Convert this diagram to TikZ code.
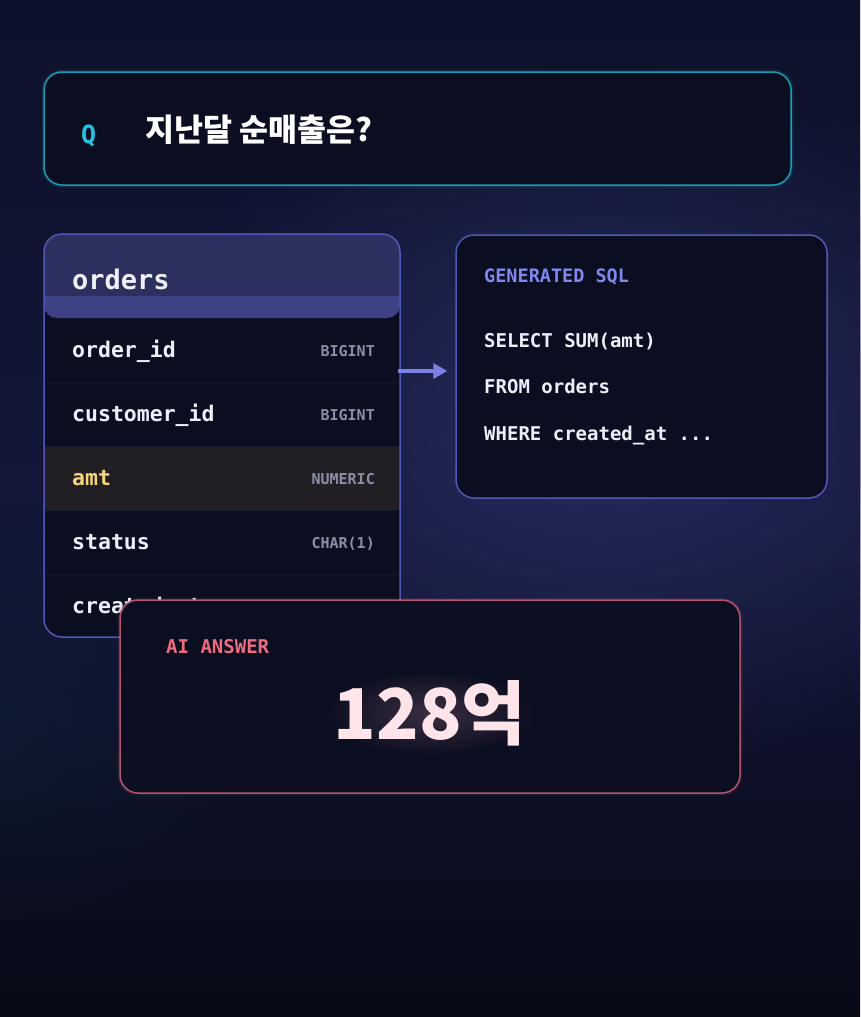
\documentclass[tikz,border=0pt]{standalone}
\usepackage{fontspec}
\setmonofont{DejaVu Sans Mono}
\newfontfamily\kr{Noto Sans CJK KR}
\usetikzlibrary{arrows.meta,fadings,calc}
\tikzfading[name=softglow, inner color=transparent!0, outer color=transparent!100]
\definecolor{bgtop}{HTML}{0D1129}
\definecolor{bgmid}{HTML}{13173A}
\definecolor{bgbot}{HTML}{080A16}
\definecolor{glowc}{HTML}{262B5C}
\definecolor{tealglow}{HTML}{0E2A3A}
\definecolor{cardfill}{HTML}{0A0E20}
\definecolor{qborder}{HTML}{1C9CB4}
\definecolor{qcyan}{HTML}{22C4E2}
\definecolor{tborder}{HTML}{5258B8}
\definecolor{thead}{HTML}{2C305E}
\definecolor{tband}{HTML}{3C4283}
\definecolor{tsep}{HTML}{151A31}
\definecolor{amtrow}{HTML}{211F24}
\definecolor{fieldc}{HTML}{EEF0F8}
\definecolor{amtc}{HTML}{F5D67A}
\definecolor{typec}{HTML}{8A8FA8}
\definecolor{sqlhead}{HTML}{8088EE}
\definecolor{arrowc}{HTML}{7A80E6}
\definecolor{ansborder}{HTML}{B5546E}
\definecolor{ansred}{HTML}{F06A80}
\definecolor{anstext}{HTML}{FFE4EA}
\definecolor{ansglow}{HTML}{FFB0C4}
\begin{document}
\begin{tikzpicture}[x=1pt,y=-1pt,
  card/.style={rounded corners=18pt, line width=1.5pt, inner sep=0pt, fill=cardfill},
  fieldtxt/.style={anchor=base west, inner sep=0pt, text=fieldc, font=\ttfamily\bfseries\fontsize{21.5}{22}\selectfont},
  typetxt/.style={anchor=base east, inner sep=0pt, text=typec, font=\ttfamily\bfseries\fontsize{15}{15}\selectfont},
  sqltxt/.style={anchor=base west, inner sep=0pt, text=fieldc, font=\ttfamily\bfseries\fontsize{19}{19}\selectfont},
  bignum/.style={inner sep=0pt, font=\kr\bfseries\fontsize{70}{70}\selectfont}
]
\useasboundingbox (0,0) rectangle (860,1017);
% background
\shade[top color=bgtop, bottom color=bgbot, middle color=bgmid] (0,0) rectangle (860,1017);
\fill[glowc, path fading=softglow] (600,420) ellipse (480 and 360);
\fill[tealglow, path fading=softglow, opacity=0.35] (0,720) ellipse (260 and 220);

% question card
\draw[qborder, line width=5pt, opacity=0.15, rounded corners=18pt] (44,72) rectangle (791,185);
\node[card, draw=qborder, minimum width=747pt, minimum height=113pt] (q) at (417.5,128.5) {};
\node[anchor=base west, inner sep=0pt, text=qcyan, font=\ttfamily\bfseries\fontsize{25}{25}\selectfont] (qlab) at (81,143) {Q};
\node[anchor=west, inner sep=0pt, text=white, font=\kr\bfseries\fontsize{31.5}{32}\selectfont] (qtext) at (145,130) {지난달 순매출은?};

% table
\begin{scope}
  \clip[rounded corners=18pt] (44,234) rectangle (400,637);
  \fill[cardfill] (44,234) rectangle (400,637);
  \fill[thead] (44,234) rectangle (400,300);
  \fill[tband, rounded corners=13pt] (44,280) rectangle (400,318);
  \fill[tband] (44,296) rectangle (400,305);
  \fill[thead] (44,280) rectangle (400,296);
  \fill[amtrow] (44,446) rectangle (400,510);
  \foreach \yy in {382,446,510,574} \draw[tsep, line width=1pt] (44,\yy) -- (400,\yy);
  \node[anchor=base west, inner sep=0pt, text=fieldc, font=\ttfamily\bfseries\fontsize{27}{27}\selectfont] (tname) at (72,289) {orders};
  \node[fieldtxt] (f1) at (72,357) {order\_id};
  \node[typetxt] (t1) at (375,356) {BIGINT};
  \node[fieldtxt] (f2) at (72,421) {customer\_id};
  \node[typetxt] (t2) at (375,420) {BIGINT};
  \node[fieldtxt, text=amtc] (f3) at (72,485) {amt};
  \node[typetxt] (t3) at (375,484) {NUMERIC};
  \node[fieldtxt] (f4) at (72,549) {status};
  \node[typetxt] (t4) at (375,548) {CHAR(1)};
  \node[fieldtxt] (f5) at (72,613) {created\_at};
\end{scope}
\node[rounded corners=18pt, line width=1.5pt, inner sep=0pt, draw=tborder, minimum width=356pt, minimum height=403pt] (tbl) at (222,435.5) {};

% SQL card
\node[card, draw=tborder, minimum width=371pt, minimum height=263pt] (sql) at (641.5,366.5) {};
\node[anchor=base west, inner sep=0pt, text=sqlhead, font=\ttfamily\bfseries\fontsize{18.5}{19}\selectfont] (sqlh) at (484,282.5) {GENERATED SQL};
\node[sqltxt] (s1) at (484,347) {SELECT SUM(amt)};
\node[sqltxt] (s2) at (484,393) {FROM orders};
\node[sqltxt] (s3) at (484,440) {WHERE created\_at ...};

% arrow
\coordinate (arrs) at (398,371);
\draw[arrowc, line width=3.5pt, -{Triangle[length=14pt,width=15pt]}, shorten >=8pt] (arrs) -- (arrs -| sql.west);

% answer card
\draw[ansborder, line width=5pt, opacity=0.12, rounded corners=18pt] (120,600) rectangle (740,793);
\node[card, draw=ansborder, minimum width=620pt, minimum height=193pt] (ans) at (430,696.5) {};
\node[anchor=base west, inner sep=0pt, text=ansred, font=\ttfamily\bfseries\fontsize{19}{19}\selectfont] (anslab) at (166,653) {AI ANSWER};
\fill[ansglow, opacity=0.2, path fading=softglow] (430,713) ellipse (108 and 44);
\node[bignum, text=anstext] (num) at (430,713) {128억};
\end{tikzpicture}
\end{document}
